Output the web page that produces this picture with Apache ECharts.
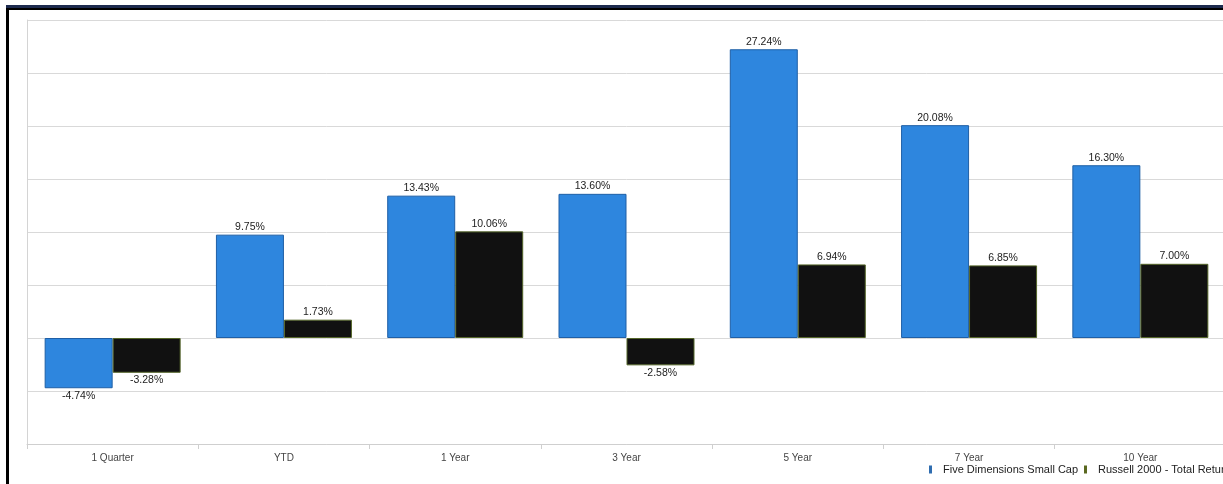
<!DOCTYPE html>
<html>
<head>
<meta charset="utf-8">
<style>
  html, body { margin: 0; padding: 0; background: #ffffff; overflow: hidden; }
  #wrap { position: relative; width: 1223px; height: 484px; overflow: hidden; }
  #topband { position: absolute; left: 6px; top: 5px; width: 1217px; height: 3px; background: #1c2a4e; }
  #topline { position: absolute; left: 6px; top: 8px; width: 1217px; height: 2px; background: #000000; }
  #leftline { position: absolute; left: 6px; top: 8px; width: 3px; height: 476px; background: #000000; }
  #chart { position: absolute; left: 0; top: 0; width: 1250px; height: 484px; }
</style>
<script src="https://cdn.jsdelivr.net/npm/echarts@6/dist/echarts.min.js"></script>
</head>
<body>
<div id="wrap">
  <div id="chart"></div>
  <div id="topband"></div>
  <div id="topline"></div>
  <div id="leftline"></div>
</div>
<script>
  // Trailing-period returns (%)
  const periods = ['1 Quarter', 'YTD', '1 Year', '3 Year', '5 Year', '7 Year', '10 Year'];
  const fundName = 'Five Dimensions Small Cap';
  const benchName = 'Russell 2000 - Total Return';
  const fundReturns = [-4.74, 9.75, 13.43, 13.60, 27.24, 20.08, 16.30];
  const benchReturns = [-3.28, 1.73, 10.06, -2.58, 6.94, 6.85, 7.00];

  // Labels sit above positive bars and below negative ones
  const toItems = (vals) => vals.map(v => ({
    value: v,
    label: { position: v < 0 ? 'bottom' : 'top' }
  }));

  const font = 'Liberation Sans, Arial, sans-serif';

  const labelStyle = {
    show: true,
    distance: 2,
    fontFamily: font,
    fontSize: 10.5,
    color: '#222222',
    formatter: p => p.value.toFixed(2) + '%'
  };

  const legendText = {
    fontFamily: font,
    fontSize: 11,
    color: '#222222',
    padding: [0, 0, 0, 6]
  };

  const chart = echarts.init(document.getElementById('chart'), null, { renderer: 'canvas' });
  chart.setOption({
    animation: false,
    backgroundColor: '#ffffff',
    grid: { left: 27, top: 20, width: 1199, height: 424, containLabel: false },
    legend: [
      {
        left: 924, top: 459, icon: 'rect', itemWidth: 3, itemHeight: 8,
        textStyle: legendText,
        data: [{ name: fundName, itemStyle: { color: '#2f6db0', borderWidth: 0 } }]
      },
      {
        left: 1079, top: 459, icon: 'rect', itemWidth: 3, itemHeight: 8,
        textStyle: legendText,
        data: [{ name: benchName, itemStyle: { color: '#5a6820', borderWidth: 0 } }]
      }
    ],
    xAxis: {
      type: 'category',
      data: periods,
      axisLine: { onZero: false, lineStyle: { color: '#cfcfcf', width: 1 } },
      axisTick: { show: true, length: 5, lineStyle: { color: '#cfcfcf' } },
      axisLabel: { margin: 9, fontFamily: font, fontSize: 10, color: '#444444' },
      splitLine: { show: false }
    },
    yAxis: {
      type: 'value',
      min: -10,
      max: 30,
      interval: 5,
      axisLine: { show: true, lineStyle: { color: '#d4d4d4' } },
      axisTick: { show: false },
      axisLabel: { show: false },
      splitLine: { lineStyle: { color: '#d9d9d9', width: 1 } }
    },
    series: [
      {
        name: fundName,
        type: 'bar',
        data: toItems(fundReturns),
        barWidth: 68,
        barGap: '0%',
        itemStyle: { color: '#2e86de', borderColor: '#1f5fa6', borderWidth: 1 },
        label: labelStyle
      },
      {
        name: benchName,
        type: 'bar',
        data: toItems(benchReturns),
        barWidth: 68,
        barGap: '0%',
        itemStyle: { color: '#111111', borderColor: '#55662a', borderWidth: 1 },
        label: labelStyle
      }
    ]
  });
</script>
</body>
</html>
